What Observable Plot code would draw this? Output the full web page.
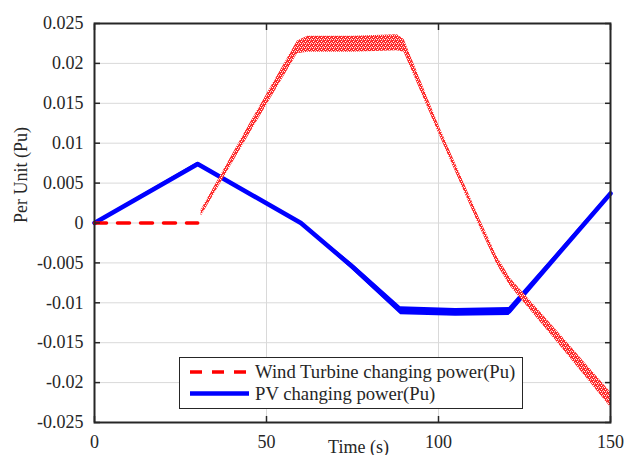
<!DOCTYPE html>
<html><head><meta charset="utf-8">
<script src="https://cdn.jsdelivr.net/npm/d3@7"></script>
<script src="https://cdn.jsdelivr.net/npm/@observablehq/plot@0.6"></script>
<style>
body{margin:0;background:#fff;}
#wrap{position:relative;width:624px;height:455px;overflow:hidden;}
#legend{position:absolute;left:179px;top:357px;}
</style></head><body><div id="wrap"></div>
<script>
// ---- data ----
const xTicks = [0, 50, 100, 150];
const yTicks = [-0.025, -0.02, -0.015, -0.01, -0.005, 0, 0.005, 0.01, 0.015, 0.02, 0.025];

// wind turbine: flat (dashed) part
const windFlatT = [0, 30];
const windFlatV = [0, 0];
// wind turbine: noisy band (lower / upper edge)
const windT  = [31, 45, 59, 62, 75, 88, 90, 100, 112, 117, 121, 135, 150];
const windLo = [0.0008, 0.0111, 0.0212, 0.0214, 0.0214, 0.0216, 0.0214, 0.0113, -0.0005, -0.0052, -0.0080, -0.0152, -0.0231];
const windHi = [0.0016, 0.0123, 0.0228, 0.0234, 0.0234, 0.0236, 0.0230, 0.0123, 0.0005, -0.0042, -0.0070, -0.0138, -0.0212];

// PV
const pvT    = [0, 30, 60, 75, 89, 105, 120.5, 135, 150];
const pvV    = [0, 0.0074, 0, -0.0055, -0.0110, -0.0112, -0.0111, -0.0038, 0.0037];
const pvNoise= [0.0001, 0.0002, 0.0001, 0.0004, 0.0005, 0.0005, 0.0005, 0.0003, 0.0002];

const windFlat = windFlatT.map((t, i) => ({t, v: windFlatV[i]}));
const windBand = windT.map((t, i) => ({t, lo: windLo[i], hi: windHi[i]}));
const pv = pvT.map((t, i) => ({t, v: pvV[i], lo: pvV[i] - pvNoise[i], hi: pvV[i] + pvNoise[i]}));

const fmt = d => d === 0 ? "0" : String(+d.toFixed(3));
const none = () => "";
const ink = "#262626";
const serif = "'Liberation Serif', 'Times New Roman', serif";

const svg = Plot.plot({
  width: 624, height: 455,
  marginLeft: 94, marginRight: 14, marginTop: 23, marginBottom: 33,
  style: {fontFamily: serif, fontSize: "18px", color: ink, background: "#fff"},
  x: {domain: [0, 150], label: null},
  y: {domain: [-0.025, 0.025], label: null},
  marks: [
    Plot.gridX(xTicks, {stroke: "#d9d9d9", strokeOpacity: 1, strokeWidth: 1}),
    Plot.gridY(yTicks, {stroke: "#d9d9d9", strokeOpacity: 1, strokeWidth: 1}),
    Plot.areaY(pv, {x: "t", y1: "lo", y2: "hi", fill: "#0000ff"}),
    Plot.line(pv, {x: "t", y: "v", stroke: "#0000ff", strokeWidth: 4.5, strokeLinejoin: "round"}),
    Plot.areaY(windBand, {x: "t", y1: "lo", y2: "hi", fill: "url(#speckle)"}),
    Plot.line(windFlat, {x: "t", y: "v", stroke: "#ff0000", strokeWidth: 3.5, strokeDasharray: "12,11"}),
    Plot.frame({stroke: ink, strokeWidth: 2}),
    // inward ticks on all four sides
    Plot.axisX(xTicks, {anchor: "bottom", tickSize: -6, tickFormat: none, label: null, stroke: ink, strokeWidth: 1.5}),
    Plot.axisX(xTicks, {anchor: "top", tickSize: -6, tickFormat: none, label: null, stroke: ink, strokeWidth: 1.5}),
    Plot.axisY(yTicks, {anchor: "left", tickSize: -6, tickFormat: none, label: null, stroke: ink, strokeWidth: 1.5}),
    Plot.axisY(yTicks, {anchor: "right", tickSize: -6, tickFormat: none, label: null, stroke: ink, strokeWidth: 1.5}),
    // tick labels
    Plot.axisX(xTicks, {anchor: "bottom", tickSize: 0, tickPadding: 13, label: null, fill: ink}),
    Plot.axisY(yTicks, {anchor: "left", tickSize: 0, tickPadding: 11, tickFormat: fmt, label: null, fill: ink}),
    // axis titles
    Plot.text(["Time (s)"], {frameAnchor: "bottom", lineAnchor: "top", dy: 18, dx: 6, fill: ink}),
    Plot.text(["Per Unit (Pu)"], {frameAnchor: "left", rotate: -90, dx: -73, fill: ink})
  ]
});

const ns = "http://www.w3.org/2000/svg";
const defs = document.createElementNS(ns, "defs");
defs.innerHTML = '<pattern id="speckle" width="4" height="4" patternUnits="userSpaceOnUse">' +
  '<rect width="4" height="4" fill="#ff2a2a"/>' +
  '<rect x="1" y="1" width="1" height="1" fill="#ffffff"/>' +
  '<rect x="3" y="2" width="1" height="1" fill="#ffc0c0"/>' +
  '<rect x="0" y="3" width="1" height="1" fill="#ffffff"/>' +
  '<rect x="2" y="3" width="1" height="1" fill="#ffd0d0"/>' +
  '<rect x="2" y="0" width="1" height="1" fill="#ff8080"/></pattern>';
svg.insertBefore(defs, svg.firstChild);

const wrap = document.getElementById("wrap");
wrap.appendChild(svg);

// legend
const legendNames = ["Wind Turbine changing power(Pu)", "PV changing power(Pu)"];
const legend = document.createElementNS(ns, "svg");
legend.setAttribute("id", "legend");
legend.setAttribute("width", 344);
legend.setAttribute("height", 52);
legend.innerHTML =
  '<rect x="0.5" y="0.5" width="343" height="51" fill="#fff" stroke="' + ink + '" stroke-width="1"/>' +
  '<line x1="11" x2="70" y1="15" y2="15" stroke="#ff0000" stroke-width="3.5" stroke-dasharray="12,10"/>' +
  '<line x1="11" x2="70" y1="36.5" y2="36.5" stroke="#0000ff" stroke-width="4.5"/>';
legendNames.forEach((name, i) => {
  const t = document.createElementNS(ns, "text");
  t.setAttribute("x", 76);
  t.setAttribute("y", i === 0 ? 21 : 43);
  t.setAttribute("fill", ink);
  t.setAttribute("font-family", serif);
  t.setAttribute("font-size", "18.7px");
  t.textContent = name;
  legend.appendChild(t);
});
wrap.appendChild(legend);
</script></body></html>
